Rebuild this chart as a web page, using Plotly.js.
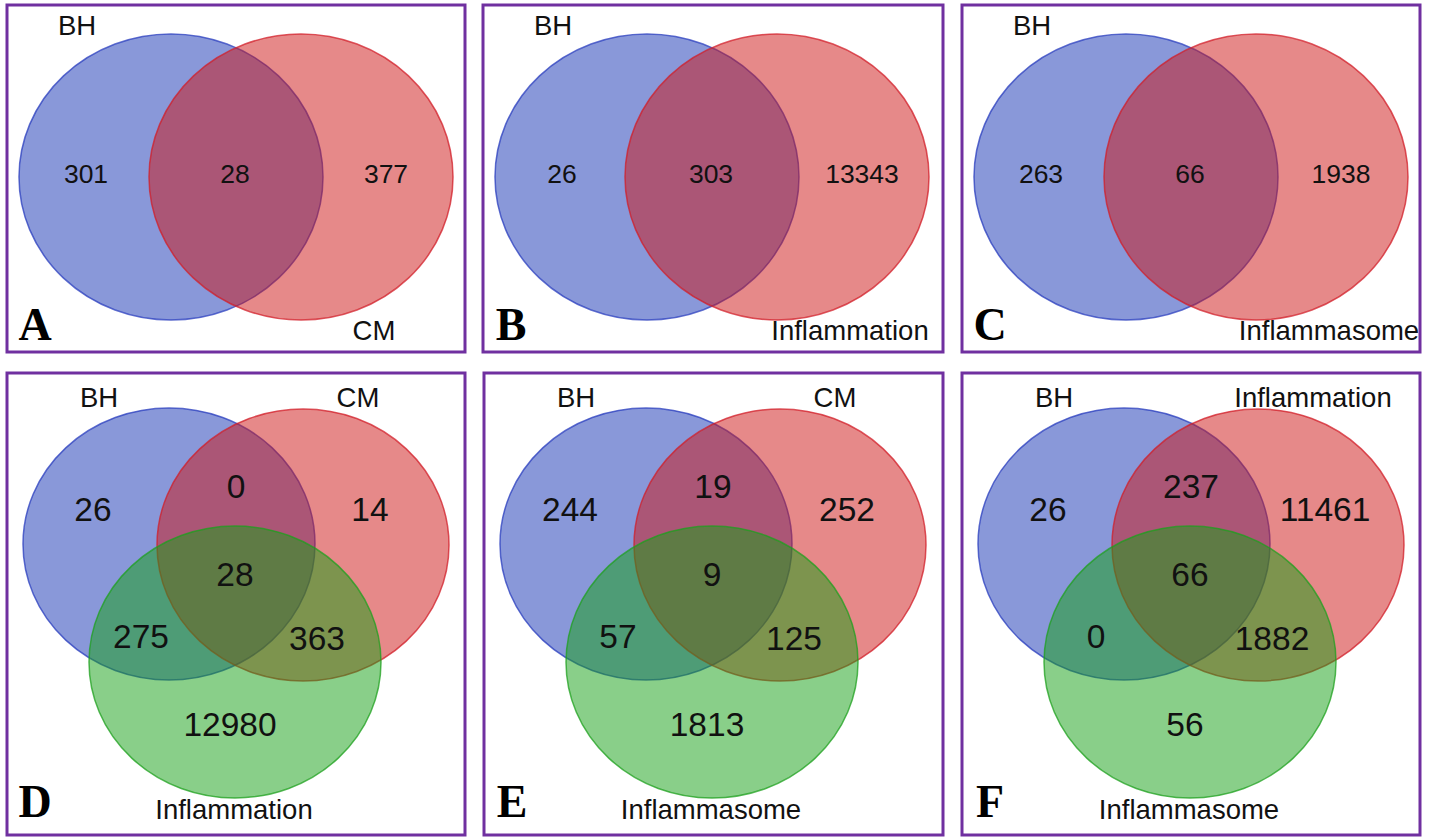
<!DOCTYPE html>
<html>
<head>
<meta charset="utf-8">
<script src="https://cdn.plot.ly/plotly-3.0.1.min.js"></script>
<style>html,body{margin:0;padding:0;background:#fff;}#chart{width:1437px;height:837px;}</style>
</head>
<body>
<div id="chart"></div>
<script>
// ---------- DATA ----------
const letters2 = ["A", "B", "C"];
const setNames2 = [["BH", "CM"], ["BH", "Inflammation"], ["BH", "Inflammasome"]];
// [only set1, set1∩set2, only set2]
const counts2 = [[301, 28, 377], [26, 303, 13343], [263, 66, 1938]];

const letters3 = ["D", "E", "F"];
const setNames3 = [["BH", "CM", "Inflammation"], ["BH", "CM", "Inflammasome"], ["BH", "Inflammation", "Inflammasome"]];
// [only1, 1∩2, only2, 1∩2∩3, 1∩3, 2∩3, only3]
const counts3 = [
  [26, 0, 14, 28, 275, 363, 12980],
  [244, 19, 252, 9, 57, 125, 1813],
  [26, 237, 11461, 66, 0, 1882, 56]
];

// ---------- LAYOUT GEOMETRY (pixels) ----------
const W = 1437, H = 837;
const panels2 = [[7, 5, 465, 352], [483, 5, 943, 352], [962, 5, 1420, 352]];
const panels3 = [[7, 373, 465, 835], [484, 373, 943, 835], [962, 373, 1420, 835]];
const geo2 = {
  circles: [[164, 172, 152, 143], [294, 172, 152, 143]],
  labels: [[70, 23], [367, 328]],
  counts: [[79, 171], [228, 171], [379, 171]],
  letter: [28, 323]
};
const geo3 = {
  circles: [[162, 171, 146, 136], [296, 172, 146, 136], [228, 289, 146, 136]],
  labels: [[92, 27], [351, 27], [227, 439]],
  counts: [[86, 140], [229, 117], [363, 140], [228, 205], [134, 267], [310, 269], [223, 355]],
  letter: [28, 432]
};
const fills = ["rgba(20,50,180,0.5)", "rgba(205,20,20,0.5)", "rgba(20,160,20,0.5)"];
const lines = ["rgba(40,60,190,0.75)", "rgba(210,30,40,0.75)", "rgba(30,160,30,0.75)"];
const sans = "Liberation Sans, Arial, sans-serif";
const serif = "Liberation Serif, Times New Roman, serif";

const traces = [];
const layout = {
  width: W, height: H,
  margin: {l: 0, r: 0, t: 0, b: 0},
  paper_bgcolor: "#fff", plot_bgcolor: "rgba(0,0,0,0)",
  showlegend: false,
  shapes: []
};

let idx = 0;
function addPanel(box, geo, names, counts, letter, numSize) {
  idx += 1;
  const xa = idx === 1 ? "x" : "x" + idx;
  const ya = idx === 1 ? "y" : "y" + idx;
  const xk = idx === 1 ? "xaxis" : "xaxis" + idx;
  const yk = idx === 1 ? "yaxis" : "yaxis" + idx;
  const w = box[2] - box[0], h = box[3] - box[1];
  layout[xk] = {domain: [box[0] / W, box[2] / W], range: [0, w], visible: false, fixedrange: true, anchor: ya};
  layout[yk] = {domain: [1 - box[3] / H, 1 - box[1] / H], range: [h, 0], visible: false, fixedrange: true, anchor: xa};
  geo.circles.forEach((c, i) => {
    layout.shapes.push({
      type: "circle", xref: xa, yref: ya,
      x0: c[0] - c[2], x1: c[0] + c[2], y0: c[1] - c[3], y1: c[1] + c[3],
      fillcolor: fills[i], line: {color: lines[i], width: 1.5}, layer: "below"
    });
  });
  layout.shapes.push({
    type: "rect", xref: xa + " domain", yref: ya + " domain",
    x0: 0, x1: 1, y0: 0, y1: 1,
    line: {color: "#7030a0", width: 3}, fillcolor: "rgba(0,0,0,0)", layer: "above"
  });
  traces.push({
    type: "scatter", mode: "text", xaxis: xa, yaxis: ya, hoverinfo: "skip",
    x: geo.counts.map(p => p[0]), y: geo.counts.map(p => p[1]),
    text: counts.map(String), textposition: "middle center",
    textfont: {family: sans, size: numSize, color: "#111"}
  });
  traces.push({
    type: "scatter", mode: "text", xaxis: xa, yaxis: ya, hoverinfo: "skip",
    x: geo.labels.map(p => p[0]), y: geo.labels.map(p => p[1]),
    text: names, textposition: "middle center",
    textfont: {family: sans, size: 27.5, color: "#111"}
  });
  traces.push({
    type: "scatter", mode: "text", xaxis: xa, yaxis: ya, hoverinfo: "skip",
    x: [geo.letter[0]], y: [geo.letter[1]],
    text: ["<b>" + letter + "</b>"], textposition: "middle center",
    textfont: {family: serif, size: 46, color: "#000"}
  });
}

for (let i = 0; i < 3; i++) addPanel(panels2[i], geo2, setNames2[i], counts2[i], letters2[i], 26.5);
for (let i = 0; i < 3; i++) addPanel(panels3[i], geo3, setNames3[i], counts3[i], letters3[i], 33.5);

Plotly.newPlot("chart", traces, layout, {staticPlot: true, displayModeBar: false});
</script>
</body>
</html>
